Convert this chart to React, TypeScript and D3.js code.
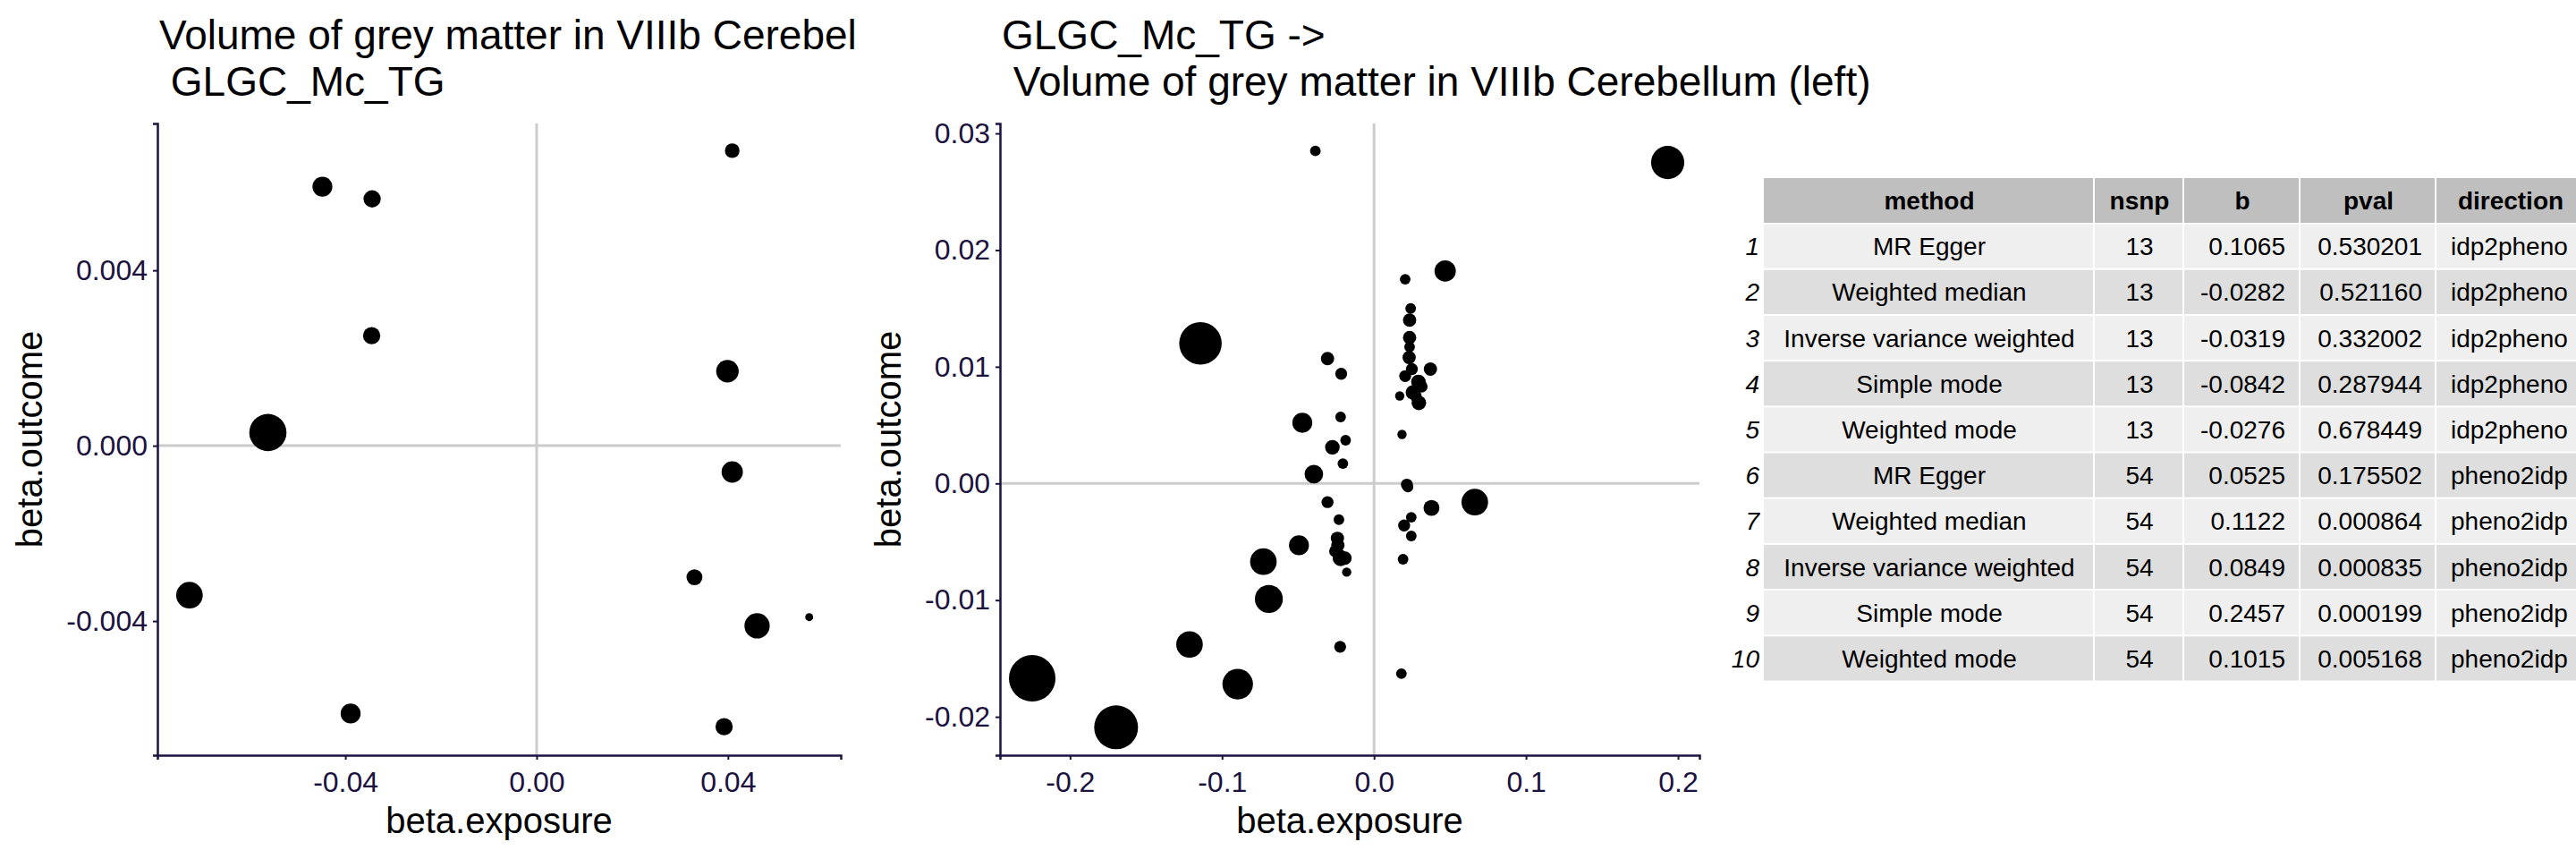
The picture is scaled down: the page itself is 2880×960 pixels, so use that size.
import React, { useEffect, useRef } from 'react';
import * as d3 from 'd3';

// panel 1: idp2pheno (beta.exposure, beta.outcome, point size)
const p1x = [-0.0448, -0.0344, -0.0345, 0.0409, -0.0562, 0.0399, 0.0409, -0.0726, 0.033, 0.0461, 0.057, -0.0389, 0.0392];
const p1y = [0.00591, 0.00563, 0.00251, 0.00673, 0.0003, 0.0017, -0.0006, -0.00341, -0.003, -0.00411, -0.00391, -0.00611, -0.00641];
const p1s = [15, 13, 13, 11, 28, 17, 16, 20, 12, 19, 6, 15, 13];

// panel 2: pheno2idp
const p2x = [-0.0386, 0.1932, 0.0468, 0.0205, 0.0241, 0.0234, 0.0234, -0.1142, -0.0306, 0.0231, 0.0371, -0.0216, 0.0249, 0.0205,
  0.0292, 0.0256, 0.0169, 0.0295, -0.0472, -0.022, -0.0187, 0.0184, -0.0274, -0.0205, -0.0396, 0.0216, 0.0663, -0.0306, 0.0378,
  0.0245, -0.0231, 0.0198, 0.0245, -0.0241, -0.0238, -0.0494, -0.022, -0.0191, 0.0191, -0.0728, -0.018, -0.0692, -0.1214, -0.0223,
  0.018, -0.2249, -0.0897, -0.1697, -0.023, 0.0223, 0.0313, 0.0234, -0.0256, 0.0274];
const p2y = [0.0285, 0.0275, 0.0182, 0.0175, 0.015, 0.014, 0.0125, 0.012, 0.0107, 0.0108, 0.0098, 0.0094, 0.0098, 0.0092,
  0.0087, 0.0078, 0.0075, 0.0069, 0.0052, 0.0057, 0.0037, 0.0042, 0.0031, 0.0017, 0.0008, -0.0001, -0.0016, -0.0016, -0.0021,
  -0.0029, -0.0031, -0.0036, -0.0045, -0.0047, -0.0053, -0.0053, -0.0064, -0.0064, -0.0065, -0.0067, -0.0076, -0.0099, -0.0138, -0.014,
  -0.0163, -0.0167, -0.0172, -0.0209, -0.0061, -0.0003, 0.0083, 0.0117, -0.0058, 0.0075];
const p2s = [8, 25, 16, 8, 8, 10, 10, 32, 10, 10, 10, 9, 9, 9, 11, 11, 7, 11, 15, 8, 8, 7, 11, 8, 14, 9, 20, 9, 12,
  8, 8, 9, 8, 10, 10, 15, 12, 10, 8, 20, 7, 21, 20, 9, 8, 35, 23, 33, 9, 8, 9, 8, 9, 9];

const p1xTicks = [-0.04, 0, 0.04];
const p1yTicks = [-0.004, 0, 0.004];
const p2xTicks = [-0.2, -0.1, 0, 0.1, 0.2];
const p2yTicks = [-0.02, -0.01, 0, 0.01, 0.02, 0.03];

const tHeader = ['method', 'nsnp', 'b', 'pval', 'direction'];
const tMethod = ['MR Egger', 'Weighted median', 'Inverse variance weighted', 'Simple mode', 'Weighted mode',
  'MR Egger', 'Weighted median', 'Inverse variance weighted', 'Simple mode', 'Weighted mode'];
const tNsnp = ['13', '13', '13', '13', '13', '54', '54', '54', '54', '54'];
const tB = ['0.1065', '-0.0282', '-0.0319', '-0.0842', '-0.0276', '0.0525', '0.1122', '0.0849', '0.2457', '0.1015'];
const tPval = ['0.530201', '0.521160', '0.332002', '0.287944', '0.678449', '0.175502', '0.000864', '0.000835', '0.000199', '0.005168'];
const tDir = ['idp2pheno', 'idp2pheno', 'idp2pheno', 'idp2pheno', 'idp2pheno', 'pheno2idp', 'pheno2idp', 'pheno2idp', 'pheno2idp', 'pheno2idp'];

const NAVY = '#1c1240';
const FONT = 'Liberation Sans, Arial, sans-serif';

const fmt = (spec: string) => (v: number) => d3.format(spec)(v).replace('\u2212', '-');

const App: React.FC = () => {
  const ref = useRef<SVGSVGElement>(null);

  useEffect(() => {
    document.body.style.margin = '0';
    const svg = d3.select(ref.current);
    svg.html('');
    svg.style('font-family', FONT);

    const panel = (
      ox: number, left: number, right: number, xd: [number, number], yd: [number, number],
      xs: number[], ys: number[], ss: number[], xt: number[], yt: number[], fmtX: (v: number) => string,
      fmtY: (v: number) => string, title: string[], clipW: number, id: string
    ) => {
      const top = 138, bottom = 844;
      const g = svg.append('g');
      const x = d3.scaleLinear().domain(xd).range([ox + left, ox + right]);
      const y = d3.scaleLinear().domain(yd).range([bottom, top]);
      const r = d3.scaleLinear().domain([0, 35]).range([0, 26]);

      svg.append('clipPath').attr('id', id).append('rect').attr('x', ox).attr('y', 0).attr('width', clipW).attr('height', 130);
      const tg = g.append('g').attr('clip-path', `url(#${id})`);
      title.forEach((t, i) => tg.append('text').attr('x', ox + left + 2).attr('y', 55 + i * 52)
        .attr('font-size', 46).attr('fill', '#000').style('white-space', 'pre').text(t));

      g.append('line').attr('x1', x(0)).attr('x2', x(0)).attr('y1', top).attr('y2', bottom).attr('stroke', '#cccccc').attr('stroke-width', 3);
      g.append('line').attr('x1', ox + left).attr('x2', ox + right).attr('y1', y(0)).attr('y2', y(0)).attr('stroke', '#cccccc').attr('stroke-width', 3);

      g.selectAll('circle.pt').data(xs).enter().append('circle')
        .attr('cx', (d) => x(d)).attr('cy', (_, i) => y(ys[i])).attr('r', (_, i) => r(ss[i])).attr('fill', '#000');

      const xa = g.append('g').attr('transform', `translate(0,${bottom})`)
        .call(d3.axisBottom(x).tickValues(xt).tickFormat((v) => fmtX(+v)).tickSizeOuter(0).tickSize(5).tickPadding(6));
      const ya = g.append('g').attr('transform', `translate(${ox + left},0)`)
        .call(d3.axisLeft(y).tickValues(yt).tickFormat((v) => fmtY(+v)).tickSizeOuter(0).tickSize(5).tickPadding(6));
      [xa, ya].forEach((a) => {
        a.select('.domain').attr('stroke', NAVY).attr('stroke-width', 2.5);
        a.selectAll('line').attr('stroke', NAVY).attr('stroke-width', 2);
        a.selectAll('text').attr('fill', NAVY).attr('font-size', 32).style('font-family', FONT);
      });
      xa.selectAll('text').attr('dy', '0.95em');

      g.append('text').attr('x', ox + left + (right - left) / 2).attr('y', 931).attr('text-anchor', 'middle')
        .attr('font-size', 40).attr('fill', '#000').text('beta.exposure');
      g.append('text').attr('text-anchor', 'middle').attr('font-size', 40).attr('fill', '#000')
        .attr('transform', `translate(${ox + 47},${(top + bottom) / 2}) rotate(-90)`).text('beta.outcome');
    };

    panel(0, 176, 940, [-0.0793, 0.0636], [-0.00706, 0.00735], p1x, p1y, p1s, p1xTicks, p1yTicks,
      fmt('.2f'), fmt('.3f'), ['Volume of grey matter in VIIIb Cerebellum (left) ->', ' GLGC_Mc_TG'], 960, 'c1');
    panel(960, 158, 940, [-0.2461, 0.2141], [-0.02329, 0.03085], p2x, p2y, p2s, p2xTicks, p2yTicks,
      fmt('.1f'), fmt('.2f'), ['GLGC_Mc_TG ->', ' Volume of grey matter in VIIIb Cerebellum (left)'], 1200, 'c2');

    // table
    const cols = [1972, 2342, 2442, 2572, 2724, 2900];
    const hTop = 199, hH = 50, rowH = 51.2;
    const tb = svg.append('g').attr('font-size', 28);
    const rows = d3.range(tMethod.length);
    const rowY = d3.scaleLinear().domain([0, 1]).range([hTop + hH + 1.5, hTop + hH + 1.5 + rowH]);
    cols.slice(0, -1).forEach((c, j) => {
      tb.append('rect').attr('x', c).attr('y', hTop).attr('width', cols[j + 1] - c - 2).attr('height', hH).attr('fill', '#bfbfbf');
      rows.forEach((r) => tb.append('rect').attr('x', c).attr('y', rowY(r)).attr('width', cols[j + 1] - c - 2)
        .attr('height', rowH - 2).attr('fill', r % 2 === 0 ? '#efefef' : '#dedede'));
    });
    const hx = [(cols[0] + cols[1]) / 2, (cols[1] + cols[2]) / 2, (cols[2] + cols[3]) / 2, (cols[3] + cols[4]) / 2, 2807];
    tHeader.forEach((h, j) => tb.append('text').attr('x', hx[j]).attr('y', hTop + hH / 2).attr('dy', '0.36em')
      .attr('text-anchor', 'middle').attr('font-weight', 'bold').text(h));
    rows.forEach((r) => {
      const cy = rowY(r) + (rowH - 2) / 2;
      const put = (xx: number, t: string, anchor: string, italic = false) => tb.append('text').attr('x', xx).attr('y', cy)
        .attr('dy', '0.36em').attr('text-anchor', anchor).attr('font-style', italic ? 'italic' : 'normal').text(t);
      put(1967, String(r + 1), 'end', true);
      put(hx[0], tMethod[r], 'middle');
      put(hx[1], tNsnp[r], 'middle');
      put(2555, tB[r], 'end');
      put(2708, tPval[r], 'end');
      put(2740, tDir[r], 'start');
    });
  }, []);

  return <svg ref={ref} width={2880} height={960} style={{ display: 'block', background: '#fff' }} />;
};

export default App;
